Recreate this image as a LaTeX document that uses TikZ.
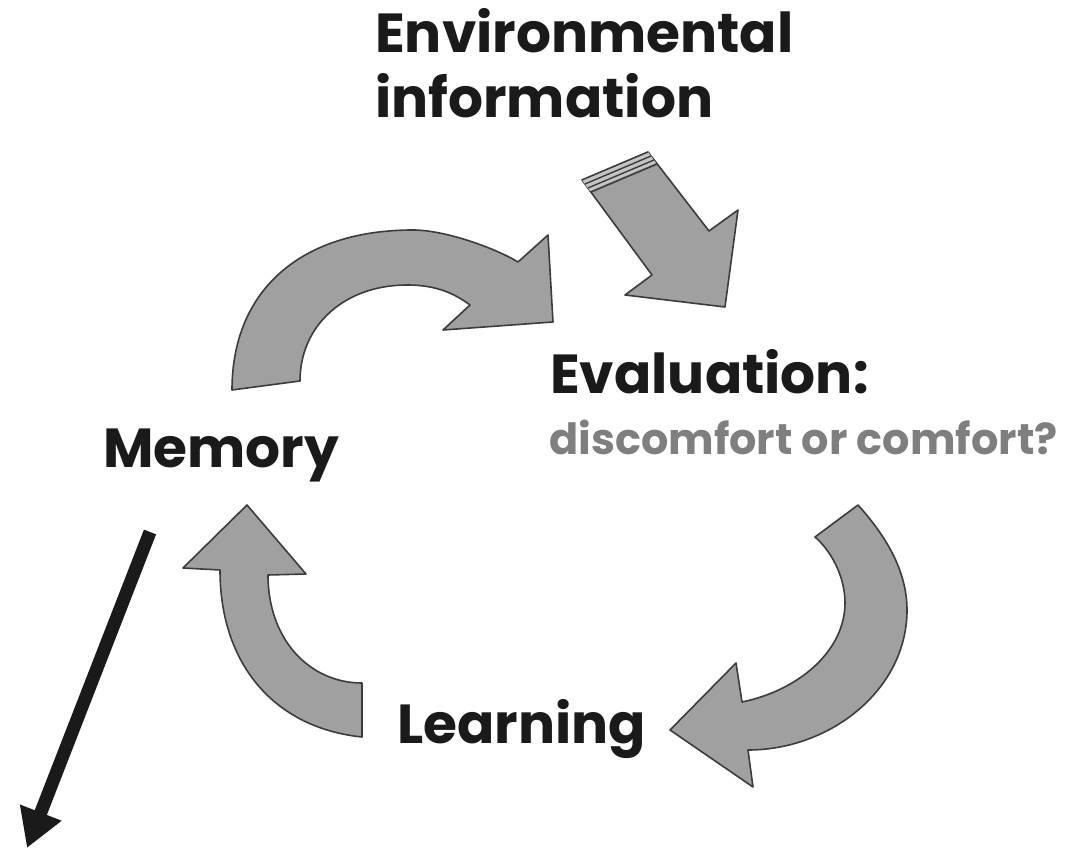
\documentclass[tikz,border=0pt]{standalone}
\usepackage{fontspec}
\setmainfont{Poppins}
\usetikzlibrary{arrows.meta,calc}
\definecolor{arrfill}{HTML}{A0A0A0}
\definecolor{arrline}{HTML}{3C3C3C}
\definecolor{txtdark}{HTML}{1A1A1A}
\definecolor{txtgrey}{HTML}{7F7F7F}
\definecolor{stripe}{HTML}{C4C4C4}
\begin{document}
\begin{tikzpicture}[x=1pt,y=-1pt,
  blockarrow/.style={fill=arrfill,draw=arrline,line width=1.6pt,line join=round},
  headtext/.style={inner sep=0pt,anchor=base west,text=txtdark,font=\fontsize{55}{58}\selectfont\bfseries},
  subtext/.style={inner sep=0pt,anchor=base west,text=txtgrey,font=\fontsize{43}{46}\selectfont\bfseries}]
\useasboundingbox (0,0) rectangle (1077,850);
% texts
\node[headtext] (env1) at (375,53) {Environmental};
\node[headtext] (env2) at (375,118) {information};
\node[headtext] (eval) at (550,394) {Evaluation:};
\node[subtext] (comf) at (549,454) {discomfort or comfort?};
\node[headtext] (mem) at (103,467) {Memory};
\node[headtext] (learn) at (397,743) {Learning};
% straight arrow (environmental information)
\draw[blockarrow] (582,180) -- (648,152) -- (709,231) -- (738,210) -- (725,307) -- (625,295) -- (652,275) -- cycle;
\fill[stripe] (582,180) -- (648,152) -- (656,163) -- (590,191) -- cycle;
\draw[arrline,line width=1.4pt] (582,180) -- (648,152);
\draw[arrline,line width=1.4pt] (585,184) -- (651,156);
\draw[arrline,line width=1.4pt] (588,188) -- (654,160);
\draw[arrline,line width=1.6pt] (591,192) -- (657,164);
% top curved arrow (memory -> evaluation)
\draw[blockarrow] (232,390) .. controls (232,291) and (300,230) .. (413,230)
  .. controls (445,230) and (495,248) .. (518,262)
  -- (548,235) -- (553,322) -- (443,330) -- (470,305)
  .. controls (450,290) and (430,285) .. (407,285)
  .. controls (345,285) and (300,325) .. (300,381) -- cycle;
% right curved arrow (evaluation -> learning)
\draw[blockarrow] (815,537) -- (858,505)
  .. controls (885,535) and (907,570) .. (907,610)
  .. controls (907,690) and (830,750) .. (748,750)
  -- (753,787) -- (670,730) -- (736,663) -- (742,702)
  .. controls (800,690) and (845,650) .. (845,603)
  .. controls (845,575) and (830,550) .. (815,537) -- cycle;
% bottom-left curved arrow (learning -> memory)
\draw[blockarrow] (247,505) -- (306,574) -- (268,575)
  .. controls (268,640) and (310,683) .. (362,683)
  -- (362,737)
  .. controls (275,728) and (220,665) .. (220,570)
  -- (183,568) -- cycle;
% black arrow
\coordinate (bstart) at (150,532);
\coordinate (bend) at (27,848);
\draw[txtdark,line width=13pt,-{Triangle[length=38pt,width=42pt]}] (bstart) -- (bend);
\end{tikzpicture}
\end{document}
